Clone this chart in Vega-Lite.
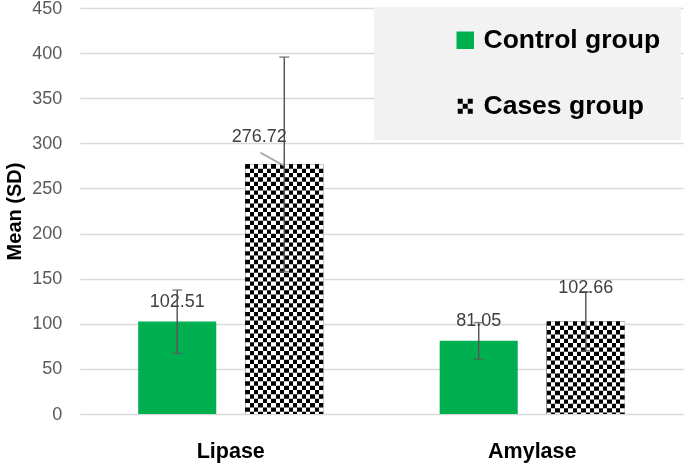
{
  "$schema": "https://vega.github.io/schema/vega-lite/v6.json",
  "autosize": {"type": "none"},
  "padding": {"left": 80, "top": 8, "right": 2, "bottom": 50},
  "width": 603,
  "height": 406,
  "background": "#ffffff",
  "data": {
    "values": [
      {"category": "Lipase", "group": "Control group", "mean": 102.51, "lo": 67.2, "hi": 137.4},
      {"category": "Lipase", "group": "Cases group", "mean": 276.72, "lo": 157.8, "hi": 395.6},
      {"category": "Amylase", "group": "Control group", "mean": 81.05, "lo": 60.8, "hi": 101.3},
      {"category": "Amylase", "group": "Cases group", "mean": 102.66, "lo": 70.3, "hi": 135.3}
    ]
  },
  "encoding": {
    "x": {"field": "category", "type": "nominal", "sort": ["Lipase", "Amylase"], "title": null,
          "scale": {"paddingInner": 0.386, "paddingOuter": 0.193}},
    "xOffset": {"field": "group", "type": "nominal", "sort": ["Control group", "Cases group"],
                "scale": {"paddingInner": 0.271, "paddingOuter": 0}}
  },
  "layer": [
    {
      "mark": {"type": "bar"},
      "encoding": {
        "y": {"field": "mean", "type": "quantitative", "title": "Mean (SD)", "scale": {"domain": [0, 450], "nice": false}},
        "fill": {"field": "group", "type": "nominal",
                 "scale": {"domain": ["Control group", "Cases group"], "range": ["#00b050", "#000000"]},
                 "legend": {
                   "title": null, "orient": "none", "legendX": 294, "legendY": -1,
                   "fillColor": "#f2f2f2", "padding": 20, "symbolOffset": 58,
                   "symbolType": "square", "symbolSize": 306, "symbolStrokeWidth": 0,
                   "labelFont": "Liberation Sans", "labelFontSize": 26.5, "labelFontWeight": "bold",
                   "labelColor": "#000000", "labelOffset": 5, "rowPadding": 39, "labelLimit": 300,
                   "encode": {"symbols": {"update": {
                     "shape": {"signal": "datum.value === 'Cases group' ? 'M-1,-1H-0.333V-0.333H-1Z M0.333,-1H1V-0.333H0.333Z M-0.333,-0.333H0.333V0.333H-0.333Z M-1,0.333H-0.333V1H-1Z M0.333,0.333H1V1H0.333Z' : 'square'"},
                     "size": {"signal": "datum.value === 'Cases group' ? 225 : 306"}
                   }}}
                 }}
      }
    },
    {
      "transform": [{"filter": "datum.group === 'Cases group'"}],
      "mark": {"type": "bar", "fill": {"gradient": "linear", "x1": 0, "y1": 0, "x2": 1, "y2": 0, "stops": [
        {"offset": 0, "color": "#000000"}, {"offset": 0.0556, "color": "#000000"},
        {"offset": 0.0556, "color": "#ffffff"}, {"offset": 0.1111, "color": "#ffffff"},
        {"offset": 0.1111, "color": "#000000"}, {"offset": 0.1667, "color": "#000000"},
        {"offset": 0.1667, "color": "#ffffff"}, {"offset": 0.2222, "color": "#ffffff"},
        {"offset": 0.2222, "color": "#000000"}, {"offset": 0.2778, "color": "#000000"},
        {"offset": 0.2778, "color": "#ffffff"}, {"offset": 0.3333, "color": "#ffffff"},
        {"offset": 0.3333, "color": "#000000"}, {"offset": 0.3889, "color": "#000000"},
        {"offset": 0.3889, "color": "#ffffff"}, {"offset": 0.4444, "color": "#ffffff"},
        {"offset": 0.4444, "color": "#000000"}, {"offset": 0.5, "color": "#000000"},
        {"offset": 0.5, "color": "#ffffff"}, {"offset": 0.5556, "color": "#ffffff"},
        {"offset": 0.5556, "color": "#000000"}, {"offset": 0.6111, "color": "#000000"},
        {"offset": 0.6111, "color": "#ffffff"}, {"offset": 0.6667, "color": "#ffffff"},
        {"offset": 0.6667, "color": "#000000"}, {"offset": 0.7222, "color": "#000000"},
        {"offset": 0.7222, "color": "#ffffff"}, {"offset": 0.7778, "color": "#ffffff"},
        {"offset": 0.7778, "color": "#000000"}, {"offset": 0.8333, "color": "#000000"},
        {"offset": 0.8333, "color": "#ffffff"}, {"offset": 0.8889, "color": "#ffffff"},
        {"offset": 0.8889, "color": "#000000"}, {"offset": 0.9444, "color": "#000000"},
        {"offset": 0.9444, "color": "#ffffff"}, {"offset": 1, "color": "#ffffff"}
      ]}},
      "encoding": {
        "y": {"field": "mean", "type": "quantitative", "title": "Mean (SD)", "scale": {"domain": [0, 450], "nice": false}}
      }
    },
    {
      "transform": [{"filter": "datum.group === 'Cases group'"}],
      "mark": {"type": "rule", "stroke": "#ffffff", "strokeWidth": 78.05, "strokeDash": [4.34, 4.34], "strokeDashOffset": 4.34, "strokeCap": "butt", "blend": "difference"},
      "encoding": {
        "y": {"field": "mean", "type": "quantitative", "title": "Mean (SD)", "scale": {"domain": [0, 450], "nice": false}},
        "y2": {"datum": 0}
      }
    },
    {
      "mark": {"type": "rule", "stroke": "#595959", "strokeWidth": 1.5},
      "encoding": {
        "y": {"field": "lo", "type": "quantitative", "title": "Mean (SD)", "scale": {"domain": [0, 450], "nice": false}},
        "y2": {"field": "hi"}
      }
    },
    {
      "mark": {"type": "tick", "color": "#595959", "thickness": 1.5, "size": 10, "orient": "horizontal"},
      "encoding": {
        "y": {"field": "lo", "type": "quantitative", "title": "Mean (SD)", "scale": {"domain": [0, 450], "nice": false}}
      }
    },
    {
      "mark": {"type": "tick", "color": "#595959", "thickness": 1.5, "size": 10, "orient": "horizontal"},
      "encoding": {
        "y": {"field": "hi", "type": "quantitative", "title": "Mean (SD)", "scale": {"domain": [0, 450], "nice": false}}
      }
    },
    {
      "transform": [{"filter": "datum.category === 'Lipase' && datum.group === 'Cases group'"}],
      "mark": {"type": "text", "text": "—", "font": "Liberation Sans", "fontSize": 26.5, "color": "#a6a6a6", "align": "right", "baseline": "middle", "angle": 28.4},
      "encoding": {
        "y": {"field": "mean", "type": "quantitative", "title": "Mean (SD)", "scale": {"domain": [0, 450], "nice": false}}
      }
    },
    {
      "transform": [{"filter": "datum.group === 'Control group'"}],
      "mark": {"type": "text", "font": "Liberation Sans", "fontSize": 18, "color": "#404040", "align": "center", "baseline": "alphabetic", "dy": -15},
      "encoding": {
        "y": {"field": "mean", "type": "quantitative", "title": "Mean (SD)", "scale": {"domain": [0, 450], "nice": false}},
        "text": {"field": "mean", "type": "quantitative", "format": ".2f"}
      }
    },
    {
      "transform": [{"filter": "datum.category === 'Amylase' && datum.group === 'Cases group'"}],
      "mark": {"type": "text", "font": "Liberation Sans", "fontSize": 18, "color": "#404040", "align": "center", "baseline": "alphabetic", "dy": -28},
      "encoding": {
        "y": {"field": "mean", "type": "quantitative", "title": "Mean (SD)", "scale": {"domain": [0, 450], "nice": false}},
        "text": {"field": "mean", "type": "quantitative", "format": ".2f"}
      }
    },
    {
      "transform": [{"filter": "datum.category === 'Lipase' && datum.group === 'Cases group'"}],
      "mark": {"type": "text", "font": "Liberation Sans", "fontSize": 18, "color": "#404040", "align": "center", "baseline": "alphabetic", "dx": -25, "dy": -22.3},
      "encoding": {
        "y": {"field": "mean", "type": "quantitative", "title": "Mean (SD)", "scale": {"domain": [0, 450], "nice": false}},
        "text": {"field": "mean", "type": "quantitative", "format": ".2f"}
      }
    }
  ],
  "config": {
    "view": {"stroke": null},
    "font": "Liberation Sans",
    "axisX": {
      "labelFont": "Liberation Sans", "labelFontSize": 21.5, "labelFontWeight": "bold", "labelColor": "#000000",
      "labelAngle": 0, "domain": false, "ticks": false, "tickSize": 0, "grid": false,
      "labelPadding": 43.4, "labelBaseline": "alphabetic"
    },
    "axisY": {
      "tickCount": 10, "grid": true, "gridColor": "#d9d9d9", "gridWidth": 1.3, "domain": false,
      "ticks": false, "tickSize": 0, "labelPadding": 18.3, "labelFont": "Liberation Sans",
      "labelFontSize": 18, "labelColor": "#595959",
      "titleFont": "Liberation Sans", "titleFontSize": 20, "titleFontWeight": "bold", "titleColor": "#000000",
      "titleX": -59.5, "titleY": 203, "titleAngle": 270, "titleAlign": "center", "titleBaseline": "alphabetic"
    }
  }
}
